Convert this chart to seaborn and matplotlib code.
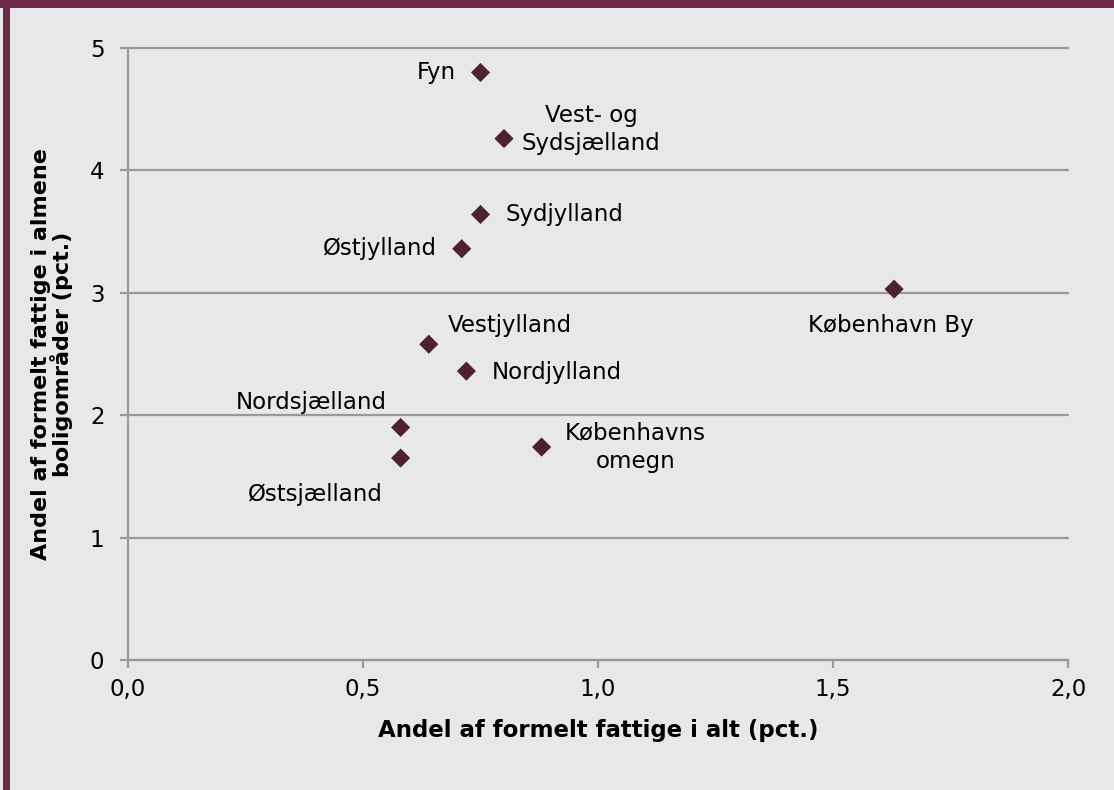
import numpy as np
import pandas as pd
import matplotlib
matplotlib.use("Agg")
import matplotlib.pyplot as plt
from matplotlib.patches import Rectangle
import seaborn as sns

# regions and values
regions = ["Fyn", "Vest- og\nSydsjælland", "Sydjylland", "Østjylland", "København By",
           "Vestjylland", "Nordjylland", "Nordsjælland", "Østsjælland", "Københavns\nomegn"]
andel_alt = [0.75, 0.80, 0.75, 0.71, 1.63, 0.64, 0.72, 0.58, 0.58, 0.88]
andel_almene = [4.80, 4.26, 3.64, 3.36, 3.03, 2.58, 2.36, 1.90, 1.65, 1.74]

# label offsets (pixels) and alignment
offsets = [(-25, 0, "right"), (87, 9, "center"), (25, 0, "left"), (-25, 0, "right"),
           (-3, -36, "center"), (19, 19, "left"), (25, -1, "left"), (-89, 25, "center"),
           (-85, -36, "center"), (94, 0, "center")]

df = pd.DataFrame({"region": regions, "alt": andel_alt, "almene": andel_almene})

bg = "#E8E8E8"
maroon = "#6B2C47"
grid_col = "#999999"
fs = 16.5

sns.set_style("white")
plt.rcParams["font.family"] = ["DejaVu Sans"]
plt.rcParams["text.color"] = "black"

fig = plt.figure(figsize=(11.14, 7.9), dpi=100, facecolor=bg)
ax = fig.add_axes([128 / 1114, 130 / 790, 940 / 1114, 612 / 790])
ax.set_facecolor(bg)

sns.scatterplot(data=df, x="alt", y="almene", marker="D", s=95, color="#4F1F33",
                edgecolor="none", ax=ax, zorder=3)

for (lab, x, y), (dx, dy, ha) in zip(zip(regions, andel_alt, andel_almene), offsets):
    ax.annotate(lab, (x, y), xytext=(dx, dy), textcoords="offset pixels",
                ha=ha, va="center", fontsize=fs, color="black", linespacing=1.3)

ax.set_xlim(0, 2)
ax.set_ylim(0, 5)
ax.set_xticks([0, 0.5, 1.0, 1.5, 2.0])
ax.set_xticklabels(["0,0", "0,5", "1,0", "1,5", "2,0"])
ax.set_yticks([0, 1, 2, 3, 4, 5])
ax.yaxis.grid(True, color=grid_col, linewidth=1.6, clip_on=False)
ax.set_axisbelow(True)
for side in ["top", "right"]:
    ax.spines[side].set_visible(False)
for side in ["left", "bottom"]:
    ax.spines[side].set_color(grid_col)
    ax.spines[side].set_linewidth(1.6)
ax.tick_params(axis="both", which="both", direction="out", length=6, width=1.6,
               color=grid_col, labelsize=fs, labelcolor="black", left=True, bottom=True)
ax.tick_params(axis="y", pad=11)
ax.tick_params(axis="x", pad=7)

ax.set_xlabel("Andel af formelt fattige i alt (pct.)", fontsize=fs, fontweight="bold",
              color="black")
ax.set_ylabel("Andel af formelt fattige i almene\nboligområder (pct.)", fontsize=16,
              fontweight="bold", color="black", linespacing=0.9)
ax.xaxis.set_label_coords(0.5, -0.097)
ax.yaxis.set_label_coords(-0.059, 0.5)

# maroon frame at top and left
fig.patches.append(Rectangle((0, 1 - 8 / 790), 1, 8 / 790, transform=fig.transFigure,
                             facecolor=maroon, edgecolor="none"))
fig.patches.append(Rectangle((3 / 1114, 0), 7 / 1114, 1, transform=fig.transFigure,
                             facecolor=maroon, edgecolor="none"))

fig.savefig("out.png", dpi=100, facecolor=bg)
